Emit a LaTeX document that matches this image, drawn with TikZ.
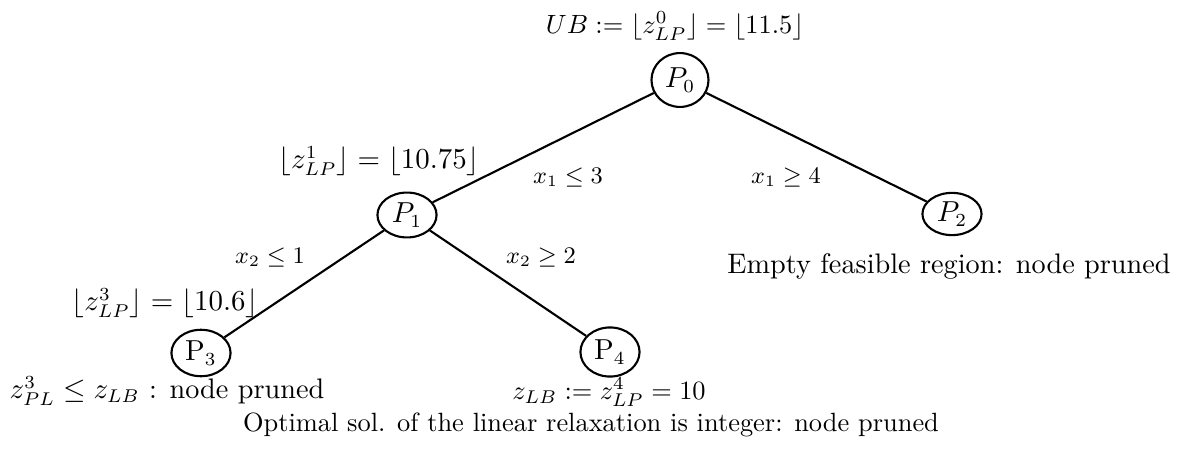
\documentclass[tikz,border=0pt]{standalone}
\usetikzlibrary{shapes.geometric}
\begin{document}
\begin{tikzpicture}[x=0.3788pt,y=-0.3788pt,
  every node/.style={font=\fontsize{10.7}{13}\selectfont},
  prob/.style={draw,thick,ellipse,minimum width=22.4pt,inner sep=1pt},
  edge/.style={thick},
  elab/.style={font=\fontsize{9}{11}\selectfont},
  note/.style={inner sep=1pt}]
\useasboundingbox (0,0) rectangle (1183,451);
\node[prob,minimum width=21.6pt,minimum height=20.4pt] (p0) at (680,80) {$P_0$};
\node[prob,minimum height=17pt] (p1) at (407,215) {$P_1$};
\node[prob,minimum height=16pt] (p2) at (952,214) {$P_2$};
\node[prob,minimum height=17.6pt] (p3) at (201,353) {$\mathrm{P}_3$};
\node[prob,minimum height=18.6pt] (p4) at (610,352) {$\mathrm{P}_4$};
\draw[edge] (p0) -- (p1);
\draw[edge] (p0) -- (p2);
\draw[edge] (p1) -- (p3);
\draw[edge] (p1) -- (p4);
\node[note,font=\fontsize{10.4}{13}\selectfont] (ub) at (675,26) {$UB := \lfloor z^0_{LP}\rfloor = \lfloor 11.5\rfloor$};
\node[note] (z1) at (379,161) {$\lfloor z^1_{LP}\rfloor = \lfloor 10.75\rfloor$};
\node[note] (z3) at (165,303) {$\lfloor z^3_{LP}\rfloor = \lfloor 10.6\rfloor$};
\node[elab] (e1) at (568,178) {$x_1 \leq 3$};
\node[elab] (e2) at (786,178) {$x_1 \geq 4$};
\node[elab] (e3) at (270,258) {$x_2 \leq 1$};
\node[elab] (e4) at (541,258) {$x_2 \geq 2$};
\node[note] (n2) at (949,266) {Empty feasible region: node pruned};
\node[note] (n3) at (167,391) {$z^3_{PL} \leq z_{LB}$ : node pruned};
\node[note,font=\fontsize{10.4}{13}\selectfont] (n4) at (609,392) {$z_{LB} := z^4_{LP} = 10$};
\node[note,font=\fontsize{10}{12}\selectfont] (n5) at (591,425) {Optimal sol. of the linear relaxation is integer: node pruned};
\end{tikzpicture}
\end{document}
